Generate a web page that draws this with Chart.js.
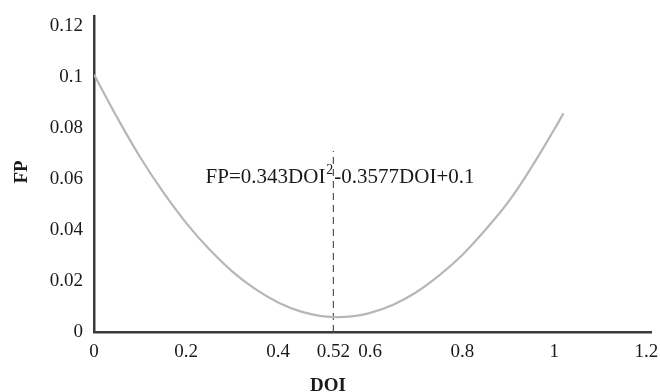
<!DOCTYPE html>
<html>
<head>
<meta charset="utf-8">
<script src="https://cdn.jsdelivr.net/npm/chart.js@4.4.0/dist/chart.umd.min.js"></script>
<style>
  html, body { margin: 0; padding: 0; background: #ffffff; }
  #wrap { width: 660px; height: 392px; position: relative; }
</style>
</head>
<body>
<div id="wrap"><canvas id="c" width="660" height="392"></canvas></div>
<script>
// ---- data ----
const doiValues = [0, 0.05, 0.1, 0.15, 0.2, 0.25, 0.3, 0.35, 0.4, 0.45, 0.5, 0.53, 0.56, 0.6, 0.65, 0.7, 0.75, 0.8, 0.85, 0.9, 0.95, 1.0, 1.02];
const fpValues  = [0.101, 0.0842, 0.0686, 0.0549, 0.0428, 0.0325, 0.0238, 0.0169, 0.0116, 0.0080, 0.0061, 0.0058, 0.0061, 0.0075, 0.0107, 0.0156, 0.0222, 0.0302, 0.0400, 0.0510, 0.0645, 0.0795, 0.0858];
const optimumDOI = [0.52, 0.52];
const optimumFP  = [0, 0.071];
const xTickValues = [0, 0.2, 0.4, 0.52, 0.6, 0.8, 1, 1.2];
const xTickLabels = ['0', '0.2', '0.4', '0.52', '0.6', '0.8', '1', '1.2'];
const yTickValues = [0, 0.02, 0.04, 0.06, 0.08, 0.1, 0.12];
const yTickLabels = ['0', '0.02', '0.04', '0.06', '0.08', '0.1', '0.12'];
const xTitle = 'DOI';
const yTitle = 'FP';
const equationMain = 'FP=0.343DOI';
const equationSup = '2';
const equationRest = '-0.3577DOI+0.1';

const serif = '"Liberation Serif", "DejaVu Serif", serif';

const curve = doiValues.map((x, i) => ({ x: x, y: fpValues[i] }));
const vline = optimumDOI.map((x, i) => ({ x: x, y: optimumFP[i] }));

const annotate = {
  id: 'annotate',
  afterDraw(chart) {
    const ctx = chart.ctx;
    const xs = chart.scales.x, ys = chart.scales.y;
    ctx.save();
    ctx.fillStyle = '#1a1a1a';
    const px = xs.getPixelForValue(optimumDOI[0]);
    const py = ys.getPixelForValue(0.0585);
    ctx.textBaseline = 'alphabetic';
    ctx.font = '21px ' + serif;
    const wMain = ctx.measureText(equationMain).width;
    ctx.font = '14px ' + serif;
    const wSup = ctx.measureText(equationSup).width;
    const start = px - wSup - wMain - 1;
    ctx.font = '21px ' + serif;
    ctx.textAlign = 'left';
    ctx.fillText(equationMain, start, py);
    ctx.font = '14px ' + serif;
    ctx.fillText(equationSup, start + wMain + 1, py - 9);
    ctx.font = '21px ' + serif;
    ctx.fillText(equationRest, px + 1, py);
    ctx.font = 'bold 19px ' + serif;
    ctx.textAlign = 'center';
    ctx.textBaseline = 'middle';
    ctx.fillText(xTitle, 328, 386);
    ctx.translate(22, 172);
    ctx.rotate(-Math.PI / 2);
    ctx.fillText(yTitle, 0, 0);
    ctx.restore();
  }
};

new Chart(document.getElementById('c'), {
  type: 'scatter',
  data: {
    datasets: [
      {
        data: curve,
        showLine: true,
        borderColor: '#b4b8b6',
        borderWidth: 2.2,
        pointRadius: 0,
        tension: 0.4,
        fill: false
      },
      {
        data: vline,
        showLine: true,
        borderColor: '#555555',
        borderWidth: 1.2,
        borderDash: [7, 5],
        pointRadius: 0,
        fill: false
      }
    ]
  },
  options: {
    responsive: false,
    animation: false,
    layout: { padding: { top: 16, right: 9, left: 0, bottom: 0 } },
    plugins: { legend: { display: false }, tooltip: { enabled: false } },
    scales: {
      x: {
        type: 'linear',
        min: 0,
        max: 1.21,
        afterBuildTicks: (s) => { s.ticks = xTickValues.map(v => ({ value: v })); },
        afterFit: (s) => { s.height = 60; s.paddingLeft = 0; s.paddingRight = 0; },
        grid: { display: false, drawTicks: false },
        border: { display: true, color: '#3a3a3a', width: 2.5 },
        ticks: {
          autoSkip: false,
          maxRotation: 0,
          padding: 9,
          color: '#1a1a1a',
          font: { family: serif, size: 19 },
          callback: (v) => { const i = xTickValues.indexOf(v); return i >= 0 ? xTickLabels[i] : ''; }
        }
      },
      y: {
        type: 'linear',
        min: 0,
        max: 0.1239,
        afterBuildTicks: (s) => { s.ticks = yTickValues.map(v => ({ value: v })); },
        afterFit: (s) => { s.width = 94; s.paddingTop = 0; s.paddingBottom = 0; },
        grid: { display: false, drawTicks: false },
        border: { display: true, color: '#3a3a3a', width: 2.5 },
        ticks: {
          padding: 11,
          color: '#1a1a1a',
          font: { family: serif, size: 19 },
          callback: (v) => { const i = yTickValues.indexOf(v); return i >= 0 ? yTickLabels[i] : ''; }
        }
      }
    }
  },
  plugins: [annotate]
});
</script>
</body>
</html>
